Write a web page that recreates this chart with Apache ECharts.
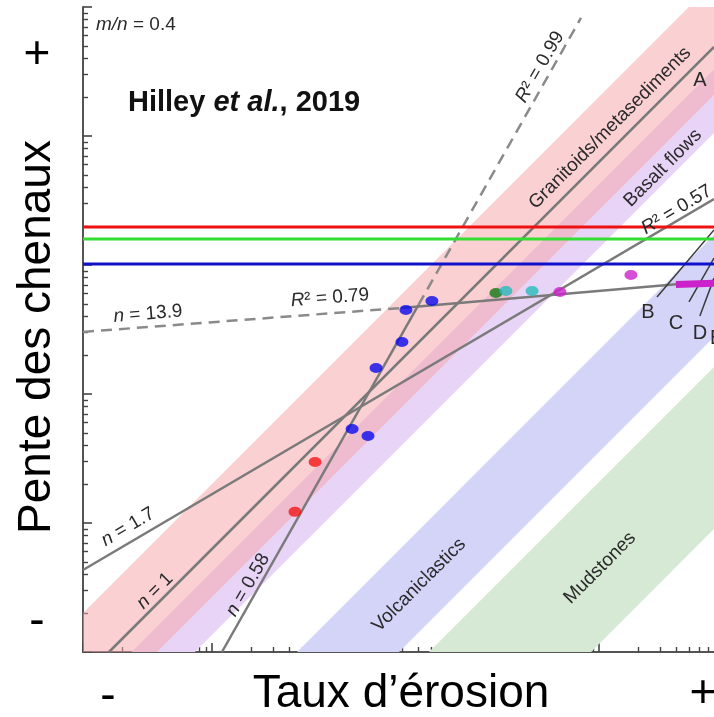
<!DOCTYPE html>
<html>
<head>
<meta charset="utf-8">
<title>Pente des chenaux / taux d'érosion</title>
<script src="https://cdn.jsdelivr.net/npm/echarts@6.0.0/dist/echarts.min.js"></script>
<style>
  html, body { margin: 0; padding: 0; background: #fff; }
  #chart { width: 714px; height: 717px; }
</style>
</head>
<body>
<div id="chart"></div>
<script>
// axis ranges (log-log, no units on the figure)
const erosionRange = [1, 78000];
const steepRange = [1, 100000];

// data points [erosion, steepness]
const redPts = [[44, 12.2], [63, 29.7]];
const bluePts = [[122, 53.5], [162, 47.3], [187, 159], [297, 253], [319, 448], [507, 526]];
const greenPts = [[1590, 607]];
const cyanPts = [[1900, 629], [3030, 629]];
const magentaPts = [[4990, 618], [17700, 836]];
const magentaBar = [[39500, 705], [78000, 722]];

// horizontal steepness levels
const levelRed = 1970;
const levelGreen = 1590;
const levelBlue = 1018;

// fitted lines [erosion, steepness]
const fitN1 = [[1.59, 1], [78000, 49000]];
const fitN17 = [[1, 4.32], [78000, 3250]];
const fitN058 = [[11.95, 1], [399, 490]];
const fitN058Ext = [[399, 490], [7250, 82200]];
const fitN139Ext = [[1, 303], [292, 464]];
const fitN139 = [[292, 464], [78000, 752]];

// leader lines of B, C, D
const leadB = [[28200, 565], [78000, 1870]];
const leadC = [[49900, 517], [78000, 1133]];
const leadD = [[60600, 402], [78000, 793]];

// lithology bands, steepness / erosion ratio [low, high]
const bandGranitoids = [0.267, 2.01];
const bandBasalt = [0.1355, 0.42];
const bandVolcani = [0.00355, 0.0219];
const bandMudstones = [0.000115, 0.00208];

const lg = Math.log10;
const FONT = '"Liberation Sans", Arial, sans-serif';
const xMax = lg(erosionRange[1]);
const yMax = lg(steepRange[1]);

// log ticks: decades + 2..9
function decadeTicks(max) {
  const major = [], minor = [];
  for (let d = 0; d <= Math.floor(max); d++) {
    major.push(d);
    for (let k = 2; k < 10; k++) {
      if (d + lg(k) <= max) minor.push(d + lg(k));
    }
  }
  return { major, minor };
}

function axisPair(max, pos) {
  const t = decadeTicks(max);
  const base = { type: 'value', min: 0, max: max, position: pos, splitLine: { show: false }, axisLabel: { show: false } };
  return [
    Object.assign({}, base, {
      axisLine: { show: true, lineStyle: { color: '#555', width: 2 } },
      axisTick: { show: true, inside: true, length: 9, customValues: t.major, lineStyle: { color: '#444', width: 1.6 } }
    }),
    Object.assign({}, base, {
      axisLine: { show: false },
      axisTick: { show: true, inside: true, length: 5, customValues: t.minor, lineStyle: { color: '#444', width: 1.4 } }
    })
  ];
}

const toLog = pts => pts.map(p => [lg(p[0]), lg(p[1])]);

function bandSeries(band, color) {
  const lo = lg(band[0]), hi = lg(band[1]);
  return {
    type: 'custom', silent: true, z: 1,
    data: [[0, 0]],
    renderItem: function (params, api) {
      const cs = params.coordSys;
      const pts = [api.coord([-1, -1 + lo]), api.coord([7, 7 + lo]), api.coord([7, 7 + hi]), api.coord([-1, -1 + hi])];
      return {
        type: 'polygon',
        shape: { points: pts },
        style: { fill: color },
        clipPath: { type: 'rect', shape: { x: cs.x, y: cs.y, width: cs.width, height: cs.height } }
      };
    }
  };
}

function lineSeries(pts, color, width, dash, z) {
  return {
    type: 'line', data: toLog(pts), symbol: 'none', silent: true, z: z || 2,
    lineStyle: { color: color, width: width, type: dash || 'solid' }
  };
}

function levelSeries(level, color) {
  return lineSeries([[erosionRange[0], level], [erosionRange[1], level]], color, 3, 'solid', 3);
}

function dotSeries(pts, color) {
  return {
    type: 'scatter', data: toLog(pts), symbol: 'circle', symbolSize: [13, 10], silent: true, z: 5,
    itemStyle: { color: color }
  };
}

const richStyles = size => ({
  i: { fontStyle: 'italic', fontSize: size, fontFamily: FONT, fill: '#2a2a2a' },
  b: { fontWeight: 'bold', fontSize: size, fontFamily: FONT, fill: '#111' },
  bi: { fontWeight: 'bold', fontStyle: 'italic', fontSize: size, fontFamily: FONT, fill: '#111' }
});

function text(str, x, y, size, deg, align, fill) {
  return {
    type: 'text', x: x, y: y, rotation: (deg || 0) * Math.PI / 180, z: 100, silent: true,
    style: {
      text: str, fontSize: size, fontFamily: FONT, fill: fill || '#2a2a2a',
      align: align || 'center', verticalAlign: 'middle', rich: richStyles(size)
    }
  };
}

const chart = echarts.init(document.getElementById('chart'));

const option = {
  animation: false,
  grid: { left: 83, top: 7, right: 0, bottom: 65 },
  xAxis: axisPair(xMax, 'bottom'),
  yAxis: axisPair(yMax, 'left'),
  series: [
    bandSeries(bandBasalt, '#e8d4f7'),
    bandSeries(bandGranitoids, 'rgba(245,165,170,0.52)'),
    bandSeries(bandVolcani, '#d4d4f8'),
    bandSeries(bandMudstones, '#d6e9d4'),
    lineSeries(fitN1, '#7a7a7a', 2.5),
    lineSeries(fitN17, '#7a7a7a', 2.5),
    lineSeries(fitN058, '#7a7a7a', 2.5),
    lineSeries(fitN058Ext, '#8a8a8a', 2.5, [11, 7]),
    lineSeries(fitN139Ext, '#8a8a8a', 2.5, [11, 7]),
    lineSeries(fitN139, '#7a7a7a', 2.5),
    lineSeries(leadB, '#3a3a3a', 1.5),
    lineSeries(leadC, '#3a3a3a', 1.5),
    lineSeries(leadD, '#3a3a3a', 1.5),
    levelSeries(levelRed, '#ee1111'),
    levelSeries(levelGreen, '#33dd33'),
    levelSeries(levelBlue, '#1111cc'),
    lineSeries(magentaBar, '#cc22cc', 7, 'solid', 4),
    dotSeries(redPts, '#f21818'),
    dotSeries(bluePts, '#0a0aee'),
    dotSeries(greenPts, '#137a13'),
    dotSeries(cyanPts, '#25bcbc'),
    dotSeries(magentaPts, '#cc22cc')
  ],
  graphic: [
    text('{i|m/n} = 0.4', 96, 25, 19, 0, 'left'),
    text('{b|Hilley }{bi|et al.}{b|, 2019}', 128, 103, 29, 0, 'left'),
    text('{i|n} = 13.9', 148, 314, 19, 4.5),
    text('{i|R}² = 0.79', 330, 298, 19, 4.5),
    text('{i|R}² = 0.99', 540, 67, 19, 60),
    text('Granitoids/metasediments', 610, 128, 19, 45),
    text('Basalt flows', 663, 168, 19, 45),
    text('{i|R}² = 0.57', 643, 230, 19, 31, 'left'),
    text('{i|n} = 1.7', 128, 527, 19, 30.5),
    text('{i|n} = 1', 155, 591, 19, 45),
    text('{i|n} = 0.58', 248, 585, 19, 60),
    text('Volcaniclastics', 419, 585, 19, 45),
    text('Mudstones', 600, 568, 19, 45),
    text('A', 700, 80, 20),
    text('B', 648, 312, 20),
    text('C', 676, 323, 20),
    text('D', 700, 333, 20),
    text('E', 710, 338, 20, 0, 'left'),
    text('Pente des chenaux', 37, 337, 46, 90, 'center', '#000'),
    text('+', 37, 55, 46, 0, 'center', '#000'),
    text('-', 37, 622, 46, 0, 'center', '#000'),
    text('Taux d’érosion', 401, 694, 46, 0, 'center', '#000'),
    text('-', 108, 697, 46, 0, 'center', '#000'),
    text('+', 703, 694, 46, 0, 'center', '#000')
  ]
};

chart.setOption(option);
</script>
</body>
</html>
